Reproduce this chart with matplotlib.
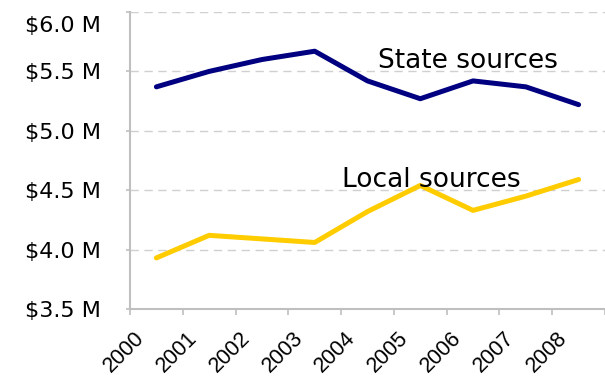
import numpy as np
import matplotlib
matplotlib.use("Agg")
import matplotlib.pyplot as plt
import matplotlib.transforms as mtransforms

# data
years = ["2000", "2001", "2002", "2003", "2004", "2005", "2006", "2007", "2008"]
state_sources = [5.37, 5.50, 5.60, 5.67, 5.42, 5.27, 5.42, 5.37, 5.22]
local_sources = [3.93, 4.12, 4.09, 4.06, 4.32, 4.54, 4.33, 4.45, 4.59]
y_ticks = [3.5, 4.0, 4.5, 5.0, 5.5, 6.0]

navy = "#000080"
gold = "#FFCC00"
grey = "#BFBFBF"

fig = plt.figure(figsize=(6.05, 3.81), dpi=100)
ax = fig.add_axes([130/605, 1-309/381, 1-130/605, (309-12)/381])

x = np.arange(len(years))
ax.plot(x, state_sources, color=navy, lw=3.6, solid_capstyle="round", solid_joinstyle="round")
ax.plot(x, local_sources, color=gold, lw=3.6, solid_capstyle="round", solid_joinstyle="round")

ax.text(5.9, 5.526, "State sources", fontsize=19, ha="center", va="baseline")
ax.text(5.2, 4.53, "Local sources", fontsize=19, ha="center", va="baseline")

ax.set_xlim(-0.5, len(years) - 0.5)
ax.set_ylim(3.5, 6.0)
ax.set_yticks(y_ticks)
ax.set_yticklabels(["$%.1f M" % v for v in y_ticks], fontsize=16)
ax.yaxis.grid(True, color="#D0D0D0", ls=(0, (6, 4)), lw=1)
ax.set_axisbelow(True)

# labels at category centres, tick marks at boundaries
ax.set_xticks(x)
ax.set_xticklabels(years, fontsize=15.5, family="Liberation Sans", rotation=45,
                   ha="right", va="center", rotation_mode="anchor")
ax.set_xticks(np.arange(len(years) + 1) - 0.5, minor=True)
ax.tick_params(axis="x", which="major", length=0, pad=19)
ax.tick_params(axis="x", which="minor", length=4, color=grey, width=1.2)
ax.tick_params(axis="y", length=3, color=grey, width=1.2, pad=18)
offset = mtransforms.ScaledTranslation(-15/100, 0, fig.dpi_scale_trans)
for lbl in ax.get_xticklabels():
    lbl.set_transform(lbl.get_transform() + offset)
# top label sits pushed down inside the picture
top = ax.get_yticklabels()[-1]
top.set_transform(top.get_transform() + mtransforms.ScaledTranslation(0, -12/100, fig.dpi_scale_trans))

for side in ["top", "right"]:
    ax.spines[side].set_visible(False)
for side in ["left", "bottom"]:
    ax.spines[side].set_color(grey)
    ax.spines[side].set_linewidth(1.5)

fig.savefig("out.png", dpi=100)
